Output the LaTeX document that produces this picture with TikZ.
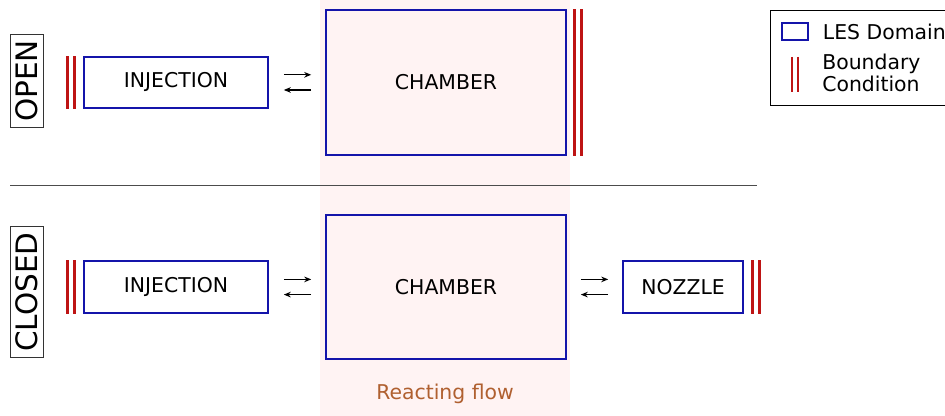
\documentclass[tikz,border=0pt]{standalone}
\usepackage{fontspec}
\setmainfont{DejaVu Sans}
\usepackage{xcolor}
\usepackage{tikz}
\definecolor{lesblue}{RGB}{20, 20, 170}
\definecolor{bcred}{RGB}{190, 20, 20}
\definecolor{flowpink}{RGB}{255, 243, 243}
\definecolor{flowbrown}{RGB}{176, 96, 48}
\usetikzlibrary{arrows.meta,positioning,calc}

\begin{document}
\begin{tikzpicture}[
    lesbox/.style={
        rectangle,
        draw=lesblue,
        line width=1.1pt,
        align=center,
        font=\fontsize{14.5}{17}\selectfont
    },
    bcline/.style={draw=bcred, line width=2.1pt},
    flow/.style={-{Stealth[length=5pt,width=4pt]}, line width=0.8pt},
    casebox/.style={draw=black!80, line width=0.9pt, rotate=90, inner xsep=4pt, inner ysep=4pt,
        font=\fontsize{21}{24}\selectfont}
]
    \useasboundingbox (0,0) rectangle (23.625,10.4);
    % Reacting flow band
    \fill[flowpink] (8.0,0) rectangle (14.25,10.4);
    \node[text=flowbrown, font=\fontsize{14.5}{17}\selectfont] (react) at (11.125,0.56) {Reacting flow};

    % Open case
    \node[casebox] (open) at (0.675,8.375) {OPEN};
    \node[lesbox, fill=white, minimum width=4.6cm, minimum height=1.275cm] (injA) at (4.4,8.34) {INJECTION};
    \node[lesbox, fill=flowpink, minimum width=6cm, minimum height=3.625cm] (chA) at (11.15,8.34) {CHAMBER};
    \draw[flow] ([shift={(0.375,0.19)}]injA.east) -- ([shift={(-0.35,0.19)}]chA.west);
    \draw[flow] ([shift={(-0.35,-0.19)}]chA.west) -- ([shift={(0.375,-0.19)}]injA.east);
    \draw[bcline] ([xshift=-0.4cm]injA.north west) -- ([xshift=-0.4cm]injA.south west);
    \draw[bcline] ([xshift=-0.225cm]injA.north west) -- ([xshift=-0.225cm]injA.south west);
    \draw[bcline] ([xshift=0.2cm]chA.north east) -- ([xshift=0.2cm]chA.south east);
    \draw[bcline] ([xshift=0.375cm]chA.north east) -- ([xshift=0.375cm]chA.south east);

    % Separator
    \coordinate (sepL) at (0.25,5.775);
    \coordinate (sepR) at (18.925,5.775);
    \draw[black!70, line width=0.6pt] (sepL) -- (sepR);

    % Closed case
    \node[casebox] (closed) at (0.675,3.1) {CLOSED};
    \node[lesbox, fill=white, minimum width=4.6cm, minimum height=1.3cm] (injB) at (4.4,3.225) {INJECTION};
    \node[lesbox, fill=flowpink, minimum width=6cm, minimum height=3.6cm] (chB) at (11.15,3.225) {CHAMBER};
    \node[lesbox, fill=white, minimum width=3cm, minimum height=1.3cm] (noz) at (17.075,3.225) {NOZZLE};
    \draw[flow] ([shift={(0.375,0.19)}]injB.east) -- ([shift={(-0.35,0.19)}]chB.west);
    \draw[flow] ([shift={(-0.35,-0.19)}]chB.west) -- ([shift={(0.375,-0.19)}]injB.east);
    \draw[flow] ([shift={(0.35,0.19)}]chB.east) -- ([shift={(-0.35,0.19)}]noz.west);
    \draw[flow] ([shift={(-0.35,-0.19)}]noz.west) -- ([shift={(0.35,-0.19)}]chB.east);
    \draw[bcline] ([xshift=-0.4cm]injB.north west) -- ([xshift=-0.4cm]injB.south west);
    \draw[bcline] ([xshift=-0.225cm]injB.north west) -- ([xshift=-0.225cm]injB.south west);
    \draw[bcline] ([xshift=0.225cm]noz.north east) -- ([xshift=0.225cm]noz.south east);
    \draw[bcline] ([xshift=0.4cm]noz.north east) -- ([xshift=0.4cm]noz.south east);

    % Legend
    \node[draw, line width=0.8pt, minimum width=4.375cm, minimum height=2.375cm] (legend) at (21.46,8.94) {};
    \node[draw=lesblue, line width=1.1pt, minimum width=0.65cm, minimum height=0.425cm, inner sep=0pt] (keyles) at (19.875,9.61) {};
    \node[anchor=west, font=\fontsize{14.5}{17}\selectfont] (txtles) at (20.45,9.6) {LES Domain};
    \coordinate (keybcT) at (19.8,8.975);
    \coordinate (keybcB) at (19.8,8.1);
    \draw[bcline] (keybcT) -- (keybcB);
    \draw[bcline] ([xshift=0.15cm]keybcT) -- ([xshift=0.15cm]keybcB);
    \node[anchor=west, align=left, inner sep=0pt, font=\fontsize{14.5}{15.6}\selectfont] (txtbc) at (20.55,8.575) {Boundary\\Condition};
\end{tikzpicture}
\end{document}
